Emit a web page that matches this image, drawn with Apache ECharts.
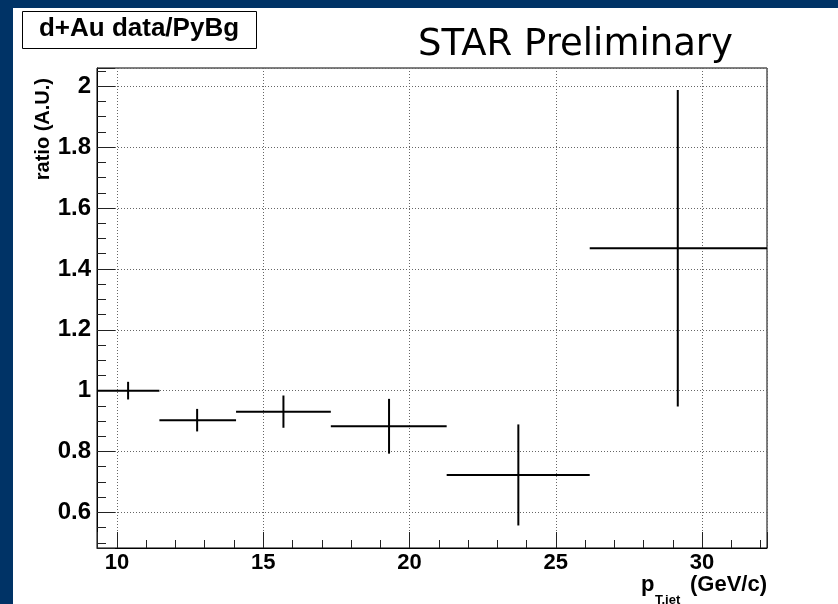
<!DOCTYPE html>
<html>
<head>
<meta charset="utf-8">
<script src="https://cdn.jsdelivr.net/npm/echarts@6/dist/echarts.min.js"></script>
<style>
  html, body { margin: 0; padding: 0; }
  body { width: 838px; height: 604px; background: #003366; position: relative; overflow: hidden; }
  #chart { position: absolute; left: 13px; top: 8px; width: 825px; height: 596px; background: #ffffff; }
</style>
</head>
<body>
<div id="chart"></div>
<script>
// Jet pT bins (log-spaced edges), mean pT in each bin, and the d+Au / PyBg ratio with errors
const binEdges = [9.317, 11.45, 14.07, 17.31, 21.27, 26.16, 32.22];
const binMeans = [10.38, 12.74, 15.69, 19.30, 23.72, 29.17];
const ratios = [1.000, 0.903, 0.931, 0.883, 0.723, 1.468];
const ratioErrors = [0.029, 0.037, 0.053, 0.090, 0.166, 0.520];

// Labelled tick values
const xTickValues = [10, 15, 20, 25, 30];
const yTickValues = [0.6, 0.8, 1, 1.2, 1.4, 1.6, 1.8, 2];
const yRange = [0.483, 2.06];

const FONT = '"Liberation Sans", Arial, Helvetica, sans-serif';

function tickFormatter(list) {
  return function (v) {
    for (const t of list) {
      if (Math.abs(t - v) < 1e-6) return String(t);
    }
    return '';
  };
}

const rows = binMeans.map((m, i) => [binEdges[i], binEdges[i + 1], m, ratios[i], ratioErrors[i]]);

const chart = echarts.init(document.getElementById('chart'), null, { renderer: 'canvas' });

chart.setOption({
  animation: false,
  backgroundColor: '#ffffff',
  grid: {
    left: 84, top: 60, width: 670, height: 480,
    show: true, borderColor: '#000', borderWidth: 1, backgroundColor: 'transparent'
  },
  xAxis: {
    type: 'value',
    min: binEdges[0],
    max: binEdges[binEdges.length - 1],
    splitNumber: 5,
    axisLine: { show: true, lineStyle: { color: '#000', width: 1 } },
    axisTick: { show: true, inside: true, length: 16, lineStyle: { color: '#222', width: 1 } },
    minorTick: { show: true, splitNumber: 5, length: 8, lineStyle: { color: '#222', width: 1 } },
    splitLine: { show: true, lineStyle: { color: '#666', width: 1, type: [1, 2] } },
    axisLabel: {
      margin: 4, color: '#000', fontFamily: FONT, fontWeight: 'bold', fontSize: 22,
      formatter: tickFormatter(xTickValues)
    }
  },
  yAxis: {
    type: 'value',
    min: yRange[0],
    max: yRange[1],
    splitNumber: 8,
    axisLine: { show: true, lineStyle: { color: '#000', width: 1 } },
    axisTick: { show: true, inside: true, length: 18, lineStyle: { color: '#222', width: 1 } },
    minorTick: { show: true, splitNumber: 4, length: 9, lineStyle: { color: '#222', width: 1 } },
    splitLine: { show: true, lineStyle: { color: '#666', width: 1, type: [1, 2] } },
    axisLabel: {
      margin: 6, color: '#000', fontFamily: FONT, fontWeight: 'bold', fontSize: 24,
      formatter: tickFormatter(yTickValues)
    }
  },
  series: [{
    type: 'custom',
    data: rows,
    encode: { x: [0, 1, 2], y: 3 },
    clip: true,
    renderItem: function (params, api) {
      const y = api.value(3);
      const err = api.value(4);
      const lo = api.coord([api.value(0), y]);
      const hi = api.coord([api.value(1), y]);
      const top = api.coord([api.value(2), y + err]);
      const bot = api.coord([api.value(2), y - err]);
      const st = { stroke: '#000', lineWidth: 2 };
      return {
        type: 'group',
        children: [
          { type: 'line', shape: { x1: lo[0], y1: lo[1], x2: hi[0], y2: hi[1] }, style: st },
          { type: 'line', shape: { x1: top[0], y1: top[1], x2: bot[0], y2: bot[1] }, style: st }
        ]
      };
    }
  }],
  graphic: [
    // label box, top left
    {
      type: 'rect', left: 9, top: 3,
      shape: { width: 234, height: 37 },
      style: { fill: '#fff', stroke: '#000', lineWidth: 1 }
    },
    {
      type: 'text', x: 126, y: 21,
      style: { text: 'd+Au data/PyBg', font: 'bold 26px ' + FONT, fill: '#000', align: 'center', verticalAlign: 'middle' }
    },
    // title
    {
      type: 'text', x: 405, y: 37,
      style: { text: 'STAR Preliminary', font: '37px "DejaVu Sans", sans-serif', fill: '#000', align: 'left', verticalAlign: 'middle' }
    },
    // y-axis title
    {
      type: 'text', x: 30, y: 70, rotation: Math.PI / 2,
      style: { text: 'ratio (A.U.)', font: 'bold 20px ' + FONT, fill: '#000', align: 'right', verticalAlign: 'middle' }
    },
    // x-axis title
    {
      type: 'text', x: 628, y: 577,
      style: { text: 'p', font: 'bold 22px ' + FONT, fill: '#000', align: 'left', verticalAlign: 'middle' }
    },
    {
      type: 'text', x: 642, y: 592,
      style: { text: 'T,jet', font: 'bold 13px ' + FONT, fill: '#000', align: 'left', verticalAlign: 'middle' }
    },
    {
      type: 'text', x: 677, y: 577,
      style: { text: '(GeV/c)', font: 'bold 22px ' + FONT, fill: '#000', align: 'left', verticalAlign: 'middle' }
    }
  ]
});
</script>
</body>
</html>
